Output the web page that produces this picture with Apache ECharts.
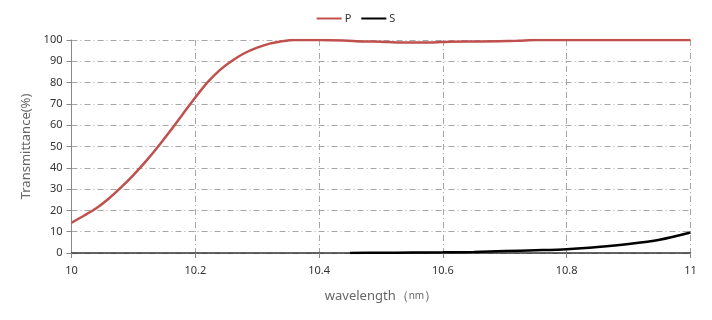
<!DOCTYPE html>
<html>
<head>
<meta charset="utf-8">
<script src="https://cdn.jsdelivr.net/npm/echarts@6/dist/echarts.min.js"></script>
<style>
  html, body { margin: 0; padding: 0; background: #fff; }
  #chart { width: 712px; height: 320px; }
</style>
</head>
<body>
<div id="chart"></div>
<script>
// ── 数据 ──
const seriesNames = ['P', 'S']
const pWave = [10.00, 10.02, 10.04, 10.06, 10.08, 10.10, 10.12, 10.14, 10.16, 10.18, 10.20, 10.22, 10.24, 10.26, 10.28, 10.30, 10.32, 10.34, 10.36, 10.40, 10.44, 10.47, 10.50, 10.53, 10.58, 10.61, 10.66, 10.72, 10.75, 11.00]
const pVals = [14.2, 17.5, 21, 25.5, 30.8, 36.6, 43, 50, 57.5, 65.3, 73, 80.2, 86, 90.4, 93.9, 96.4, 98.3, 99.4, 100, 100, 99.8, 99.3, 99.2, 98.8, 98.8, 99.2, 99.3, 99.6, 100, 100]
const sWave = [10.45, 10.50, 10.55, 10.60, 10.65, 10.70, 10.75, 10.80, 10.85, 10.90, 10.95, 11.00]
const sVals = [0.05, 0.1, 0.2, 0.3, 0.5, 0.9, 1.3, 1.8, 2.8, 4.2, 6.2, 9.6]

const gridLine = { show: true, lineStyle: { color: '#a6a6a6', width: 1, type: [6, 3, 1, 3] } }
const font = 'Noto Sans'

const chart = echarts.init(document.getElementById('chart'))
chart.setOption({
  animation: false,
  textStyle: { fontFamily: font },
  legend: {
    data: seriesNames,
    top: 8,
    left: 'center',
    itemWidth: 25,
    itemHeight: 2,
    itemGap: 10,
    icon: 'rect',
    textStyle: { fontSize: 11, color: '#333', padding: [0, 0, 0, -2] },
  },
  grid: { left: 71.5, right: 21.5, top: 40, bottom: 67 },
  xAxis: {
    type: 'value',
    min: 10,
    max: 11,
    interval: 0.2,
    name: 'wavelength（{s|nm}）',
    nameLocation: 'middle',
    nameGap: 37,
    nameTextStyle: { fontSize: 13, color: '#666', rich: { s: { fontSize: 10, color: '#666' } } },
    axisLine: { lineStyle: { color: '#333', width: 1.5 } },
    axisTick: { show: true, length: 5, lineStyle: { color: '#888' } },
    axisLabel: { fontSize: 11, color: '#333', margin: 12, formatter: (v) => String(+v.toFixed(1)) },
    splitLine: gridLine,
  },
  yAxis: {
    type: 'value',
    min: 0,
    max: 100,
    interval: 10,
    name: 'Transmittance(%)',
    nameLocation: 'middle',
    nameGap: 37,
    nameTextStyle: { fontSize: 13, color: '#666' },
    axisLine: { show: true, lineStyle: { color: '#888', width: 1 } },
    axisTick: { show: true, length: 5, lineStyle: { color: '#888' } },
    axisLabel: { fontSize: 11, color: '#333', margin: 9 },
    splitLine: gridLine,
  },
  series: [
    {
      name: 'P',
      type: 'line',
      data: pWave.map((w, i) => [w, pVals[i]]),
      smooth: 0.3,
      showSymbol: false,
      lineStyle: { color: '#c0504d', width: 2.5 },
      itemStyle: { color: '#c0504d' },
      z: 3,
    },
    {
      name: 'S',
      type: 'line',
      data: sWave.map((w, i) => [w, sVals[i]]),
      smooth: 0.3,
      showSymbol: false,
      lineStyle: { color: '#000', width: 2.5 },
      itemStyle: { color: '#000' },
      z: 4,
    },
  ],
})
</script>
</body>
</html>
